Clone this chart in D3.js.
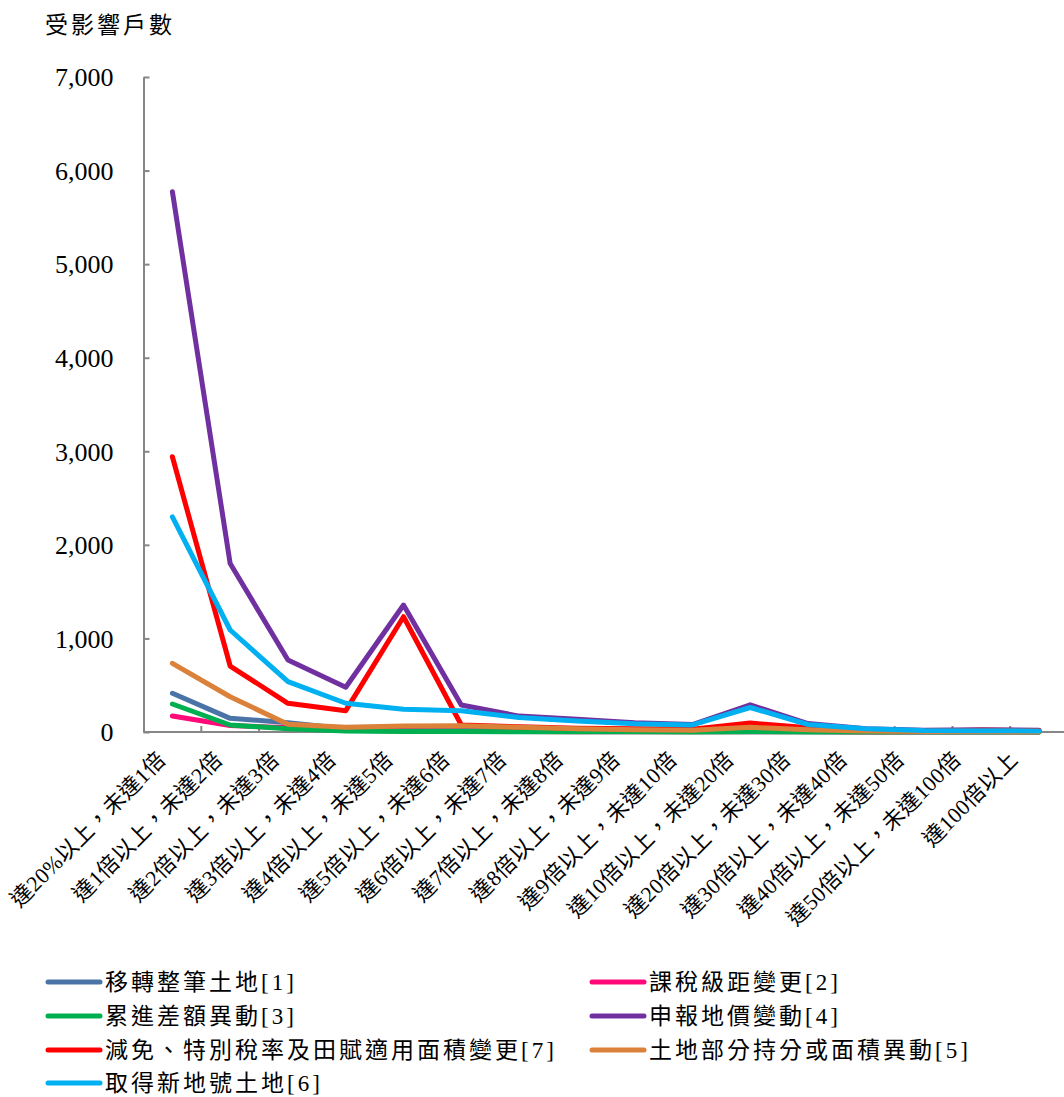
<!DOCTYPE html>
<html>
<head>
<meta charset="utf-8">
<script src="https://cdn.jsdelivr.net/npm/d3@7"></script>
<style>
  html, body { margin: 0; padding: 0; background: #fff; }
  svg { display: block; }
  text { font-family: "Liberation Serif", "Noto Sans CJK TC", serif; fill: #000; }
</style>
</head>
<body>
<svg id="chart" width="1064" height="1097"></svg>
<script>
// Price-ratio brackets (categories on the x axis)
const categories = [
  "達20%以上，未達1倍", "達1倍以上，未達2倍", "達2倍以上，未達3倍", "達3倍以上，未達4倍",
  "達4倍以上，未達5倍", "達5倍以上，未達6倍", "達6倍以上，未達7倍", "達7倍以上，未達8倍",
  "達8倍以上，未達9倍", "達9倍以上，未達10倍", "達10倍以上，未達20倍", "達20倍以上，未達30倍",
  "達30倍以上，未達40倍", "達40倍以上，未達50倍", "達50倍以上，未達100倍", "達100倍以上"
];

// Affected households per bracket, one array per cause
const transferWhole   = [414, 146, 100, 35, 20, 15, 12, 10, 8, 6, 10, 6, 4, 3, 2, 1];
const taxBracket      = [171, 70, 45, 20, 10, 8, 5, 4, 3, 2, 4, 2, 1, 1, 1, 0];
const progressiveDiff = [299, 75, 35, 10, 5, 5, 3, 2, 2, 1, 2, 1, 1, 0, 0, 0];
const declaredValue   = [5774, 1800, 770, 478, 1357, 289, 170, 135, 100, 80, 290, 90, 35, 20, 25, 18];
const exemptionArea   = [2942, 705, 307, 228, 1232, 75, 55, 40, 35, 30, 95, 45, 20, 10, 18, 15];
const partialShare    = [734, 377, 82, 50, 64, 67, 50, 35, 25, 20, 50, 25, 10, 5, 5, 3];
const newParcel       = [2298, 1090, 538, 307, 243, 228, 155, 118, 88, 75, 262, 80, 35, 15, 14, 12];

const seriesNames = [
  "移轉整筆土地[1]", "課稅級距變更[2]", "累進差額異動[3]", "申報地價變動[4]",
  "減免、特別稅率及田賦適用面積變更[7]", "土地部分持分或面積異動[5]", "取得新地號土地[6]"
];
const seriesColors = ["#4A74A8", "#FF0A78", "#00B050", "#7030A0", "#FF0000", "#DB8139", "#00B0F0"];
const seriesValues = [transferWhole, taxBracket, progressiveDiff, declaredValue, exemptionArea, partialShare, newParcel];

const yTicks = [0, 1000, 2000, 3000, 4000, 5000, 6000, 7000];
const yTitle = "受影響戶數";

const series = seriesNames.map((name, i) => ({ name, color: seriesColors[i], values: seriesValues[i] }));

const svg = d3.select("#chart");

const plot = { left: 143.5, right: 1068, top: 77, bottom: 732 };

const x = d3.scaleBand().domain(categories).range([plot.left, plot.right]).padding(0);
const y = d3.scaleLinear().domain([0, 7000]).range([plot.bottom, plot.top]);
const cx = c => x(c) + x.bandwidth() / 2;

// anchor points for the slanted category labels
const labelX = d3.scalePoint().domain(categories).range([167, 1019]);

// y axis
const yAxis = d3.axisLeft(y)
  .tickValues(yTicks)
  .tickFormat(d3.format(","))
  .tickSizeInner(-6)
  .tickSizeOuter(0)
  .tickPadding(30);
const yG = svg.append("g").attr("transform", `translate(${plot.left},0)`).call(yAxis);
yG.select(".domain").attr("stroke", "#868686").attr("stroke-width", 2);
yG.selectAll(".tick line").attr("stroke", "#868686").attr("stroke-width", 2);
yG.selectAll(".tick text")
  .attr("font-family", '"Liberation Serif", serif')
  .attr("font-size", 26)
  .attr("fill", "#000")
  .attr("dy", "0.34em");

// x axis: baseline plus ticks on category boundaries
const xG = svg.append("g");
xG.append("line")
  .attr("x1", plot.left).attr("x2", plot.right)
  .attr("y1", y(0)).attr("y2", y(0))
  .attr("stroke", "#868686").attr("stroke-width", 2);
xG.selectAll("line.tick")
  .data(categories.slice(1))
  .join("line")
  .attr("class", "tick")
  .attr("x1", d => x(d)).attr("x2", d => x(d))
  .attr("y1", y(0)).attr("y2", y(0) - 6)
  .attr("stroke", "#868686").attr("stroke-width", 2);

xG.selectAll("text.cat")
  .data(categories)
  .join("text")
  .attr("class", "cat")
  .attr("transform", d => `translate(${labelX(d)},${y(0) + 29}) rotate(-45)`)
  .attr("text-anchor", "end")
  .attr("font-size", 22)
  .attr("letter-spacing", 0.3)
  .text(d => d);

// axis title
svg.append("text")
  .attr("x", 45).attr("y", 33)
  .attr("font-size", 23)
  .attr("letter-spacing", 3)
  .text(yTitle);

// lines
const line = d3.line()
  .x((d, i) => cx(categories[i]))
  .y(d => y(d));

svg.append("g")
  .selectAll("path")
  .data(series)
  .join("path")
  .attr("d", d => line(d.values))
  .attr("fill", "none")
  .attr("stroke", d => d.color)
  .attr("stroke-width", 5)
  .attr("stroke-linejoin", "round")
  .attr("stroke-linecap", "round");

// legend, two columns filled row by row
const legend = svg.append("g");
const colX = [48, 592];
const rowY = [982, 1016, 1050, 1083];
const item = legend.selectAll("g")
  .data(series)
  .join("g")
  .attr("transform", (d, i) => `translate(${colX[i % 2]},${rowY[Math.floor(i / 2)]})`);
item.append("line")
  .attr("x1", 0).attr("x2", 52)
  .attr("stroke", d => d.color)
  .attr("stroke-width", 5)
  .attr("stroke-linecap", "round");
item.append("text")
  .attr("x", 57)
  .attr("dy", "0.36em")
  .attr("font-size", 23)
  .attr("letter-spacing", 3)
  .text(d => d.name);
</script>
</body>
</html>
